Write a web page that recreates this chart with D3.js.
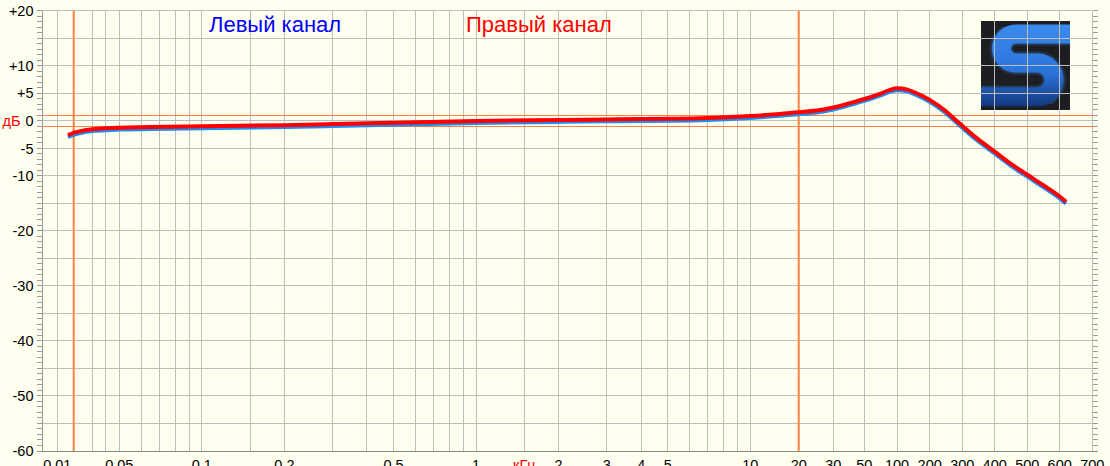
<!DOCTYPE html>
<html><head><meta charset="utf-8">
<script src="https://cdn.jsdelivr.net/npm/d3@7"></script>
<style>body{margin:0;background:#fffff0;} svg{display:block;font-family:"Liberation Sans",Arial,sans-serif;}</style>
</head><body><svg id="c" width="1110" height="466"></svg>
<script>
// ---------- data ----------
const freqKHz = [0.0157, 0.02, 0.025, 0.034, 0.05, 0.065, 0.1, 0.2, 0.3, 0.5, 1, 2, 3, 5, 7, 10, 14.6, 20, 24.7, 30, 39.5, 50, 69.7, 86.2, 100, 122.8, 151.7, 200, 236.9, 291.5, 341, 400, 444, 500, 547, 600, 618];
const rightDb = [-2.6, -2.2, -1.75, -1.45, -1.25, -1.15, -1.0, -0.8, -0.6, -0.35, -0.05, 0.15, 0.25, 0.35, 0.5, 0.85, 1.2, 1.55, 1.85, 2.4, 3.2, 3.95, 4.9, 5.6, 5.9, 5.7, 5.0, 3.8, 2.1, -0.55, -3.15, -5.6, -7.7, -9.8, -11.7, -13.75, -14.7];
const leftDb = [-2.95, -2.55, -2.1, -1.8, -1.6, -1.5, -1.35, -1.15, -0.95, -0.7, -0.4, -0.2, -0.1, 0.0, 0.15, 0.5, 0.85, 1.2, 1.5, 2.05, 2.85, 3.6, 4.55, 5.25, 5.55, 5.35, 4.65, 3.45, 1.75, -0.9, -3.5, -5.95, -8.05, -10.15, -12.05, -14.1, -15.05];
const xTickValues = [0.01, 0.05, 0.1, 0.2, 0.5, 1, 2, 3, 4, 5, 10, 20, 30, 50, 100, 200, 300, 400, 500, 600, 700];
const xTickLabels = ["0.01", "0.05", "0.1", "0.2", "0.5", "1", "2", "3", "4", "5", "10", "20", "30", "50", "100", "200", "300", "400", "500", "600", "700"];
const xGridValues = [0.01, 0.03, 0.04, 0.05, 0.06, 0.07, 0.08, 0.09, 0.1, 0.15, 0.2, 0.3, 0.4, 0.5, 0.6, 0.7, 0.8, 0.9, 1, 1.5, 2, 3, 4, 5, 6, 7, 8, 9, 10, 30, 50, 100, 200, 300, 400, 500, 600, 700];
const xMarkers = [0.02, 20];
const yMarkers = [1, -1];
const yTickValues = [20, 10, 5, 0, -5, -10, -20, -30, -40, -50, -60];
const yTickLabels = ["+20", "+10", "+5", "0", "-5", "-10", "-20", "-30", "-40", "-50", "-60"];
const seriesNames = ["Левый канал", "Правый канал"];
const unitY = "дБ", unitX = "кГц";

// ---------- layout ----------
const W = 1110, H = 466;
const plotL = 42, plotT = 10.7, plotB = 451;
const xBreaks = [0.01, 0.02, 0.04, 0.05, 10, 20, 30, 50, 100, 200, 300, 400, 500, 600, 700];
const xStops  = [57.3, 73.7, 105.7, 119.3, 750.3, 798.7, 833.3, 864.3, 897, 929.7, 962.3, 994.7, 1027.3, 1059.7, 1092.3];
const xLin = d3.scaleLinear().domain(xBreaks.map(Math.log10)).range(xStops);
const xs = v => xLin(Math.log10(v));
const ys = d3.scaleLinear().domain([-60, 20]).range([plotB, plotT]);
const plotR = xStops[xStops.length - 1];

const svg = d3.select("#c");
svg.append("rect").attr("width", W).attr("height", H).attr("fill", "#fffff0");

// ---------- logo ----------
const defs = svg.append("defs");
defs.append("clipPath").attr("id", "lc").append("rect")
  .attr("x", 981).attr("y", 21).attr("width", 89).attr("height", 89);
const g1 = defs.append("linearGradient").attr("id", "sg").attr("gradientUnits", "userSpaceOnUse")
  .attr("x1", 0).attr("y1", 21).attr("x2", 0).attr("y2", 110);
g1.append("stop").attr("offset", "0").attr("stop-color", "#3c8cf0");
g1.append("stop").attr("offset", "0.6").attr("stop-color", "#2a72d8");
g1.append("stop").attr("offset", "1").attr("stop-color", "#0f3070");
defs.append("filter").attr("id", "bl").append("feGaussianBlur").attr("stdDeviation", 1.2);
const logo = svg.append("g").attr("clip-path", "url(#lc)");
logo.append("rect").attr("x", 981).attr("y", 21).attr("width", 89).attr("height", 89).attr("fill", "#1d1e21");
const sPath = "M1080,34 H1016 A14.5,14.5 0 0 0 1016,63 H1037 A17,17 0 0 1 1037,97 H970";
logo.append("path").attr("d", sPath).attr("fill", "none").attr("stroke", "#3060a0")
  .attr("stroke-width", 22).attr("filter", "url(#bl)").attr("opacity", 0.6);
logo.append("path").attr("d", sPath).attr("fill", "none").attr("stroke", "url(#sg)").attr("stroke-width", 19);

// ---------- grid ----------
const grid = svg.append("g");
grid.append("g").selectAll("line").data(xGridValues).join("line")
  .attr("x1", d => xs(d)).attr("x2", d => xs(d)).attr("y1", plotT).attr("y2", plotB)
  .attr("stroke", "#bdbdbd").attr("stroke-width", 1).attr("shape-rendering", "crispEdges");
grid.append("g").selectAll("line").data(d3.range(-60, 21, 5)).join("line")
  .attr("x1", plotL).attr("x2", plotR).attr("y1", d => ys(d)).attr("y2", d => ys(d))
  .attr("stroke", "#bdbdbd").attr("stroke-width", 1).attr("shape-rendering", "crispEdges");

// markers
svg.append("g").selectAll("line").data(xMarkers).join("line")
  .attr("x1", d => xs(d)).attr("x2", d => xs(d)).attr("y1", plotT).attr("y2", plotB)
  .attr("stroke", "#ff8040").attr("stroke-width", 2);
svg.append("g").selectAll("line").data(yMarkers).join("line")
  .attr("x1", plotL).attr("x2", plotR + 6).attr("y1", d => ys(d)).attr("y2", d => ys(d))
  .attr("stroke", "#ff8040").attr("stroke-width", 1).attr("shape-rendering", "crispEdges");

// ---------- axes ----------
const minor = d3.range(-60, 21, 1);
svg.append("g").selectAll("line").data(minor).join("line")
  .attr("x1", plotL - 5).attr("x2", plotL).attr("y1", d => ys(d)).attr("y2", d => ys(d))
  .attr("stroke", "#9a9a9a").attr("shape-rendering", "crispEdges");
svg.append("g").selectAll("line").data(minor).join("line")
  .attr("x1", plotR + 1).attr("x2", plotR + 6).attr("y1", d => ys(d)).attr("y2", d => ys(d))
  .attr("stroke", "#9a9a9a").attr("shape-rendering", "crispEdges");
svg.append("line").attr("x1", plotL).attr("x2", plotL).attr("y1", plotT).attr("y2", plotB)
  .attr("stroke", "#9a9a9a").attr("shape-rendering", "crispEdges");
svg.append("line").attr("x1", plotL).attr("x2", plotR + 6).attr("y1", plotB).attr("y2", plotB)
  .attr("stroke", "#8a8a8a").attr("shape-rendering", "crispEdges");

svg.append("g").selectAll("text").data(yTickValues).join("text")
  .attr("x", 33.5).attr("y", d => ys(d)).attr("dy", "0.36em").attr("text-anchor", "end")
  .attr("font-size", 14.5).attr("fill", "#000").text((d, i) => yTickLabels[i]);
svg.append("text").attr("x", 2.5).attr("y", ys(0)).attr("dy", "0.36em").attr("font-size", 14.5)
  .attr("fill", "#ff0000").text(unitY);

svg.append("g").selectAll("text").data(xTickValues).join("text")
  .attr("x", d => xs(d)).attr("y", 469.5).attr("text-anchor", "middle")
  .attr("font-size", 14.5).attr("fill", "#000").text((d, i) => xTickLabels[i]);
svg.append("text").attr("x", xs(1.5)).attr("y", 469.5).attr("text-anchor", "middle")
  .attr("font-size", 14.5).attr("fill", "#ff0000").text(unitX);

// ---------- titles ----------
svg.append("text").attr("x", 209).attr("y", 31.5).attr("font-size", 22).attr("fill", "#0000ff").text(seriesNames[0]);
svg.append("text").attr("x", 466).attr("y", 31.5).attr("font-size", 22).attr("fill", "#ff0000").text(seriesNames[1]);

// ---------- curves ----------
const line = d3.line().x(d => xs(d[0])).y(d => ys(d[1])).curve(d3.curveMonotoneX);
svg.append("path").datum(freqKHz.map((f, i) => [f, leftDb[i]])).attr("d", line)
  .attr("fill", "none").attr("stroke", "#1e8cf0").attr("stroke-width", 4).attr("stroke-linejoin", "round");
svg.append("path").datum(freqKHz.map((f, i) => [f, rightDb[i]])).attr("d", line)
  .attr("fill", "none").attr("stroke", "#ff0000").attr("stroke-width", 4).attr("stroke-linejoin", "round");
</script></body></html>
